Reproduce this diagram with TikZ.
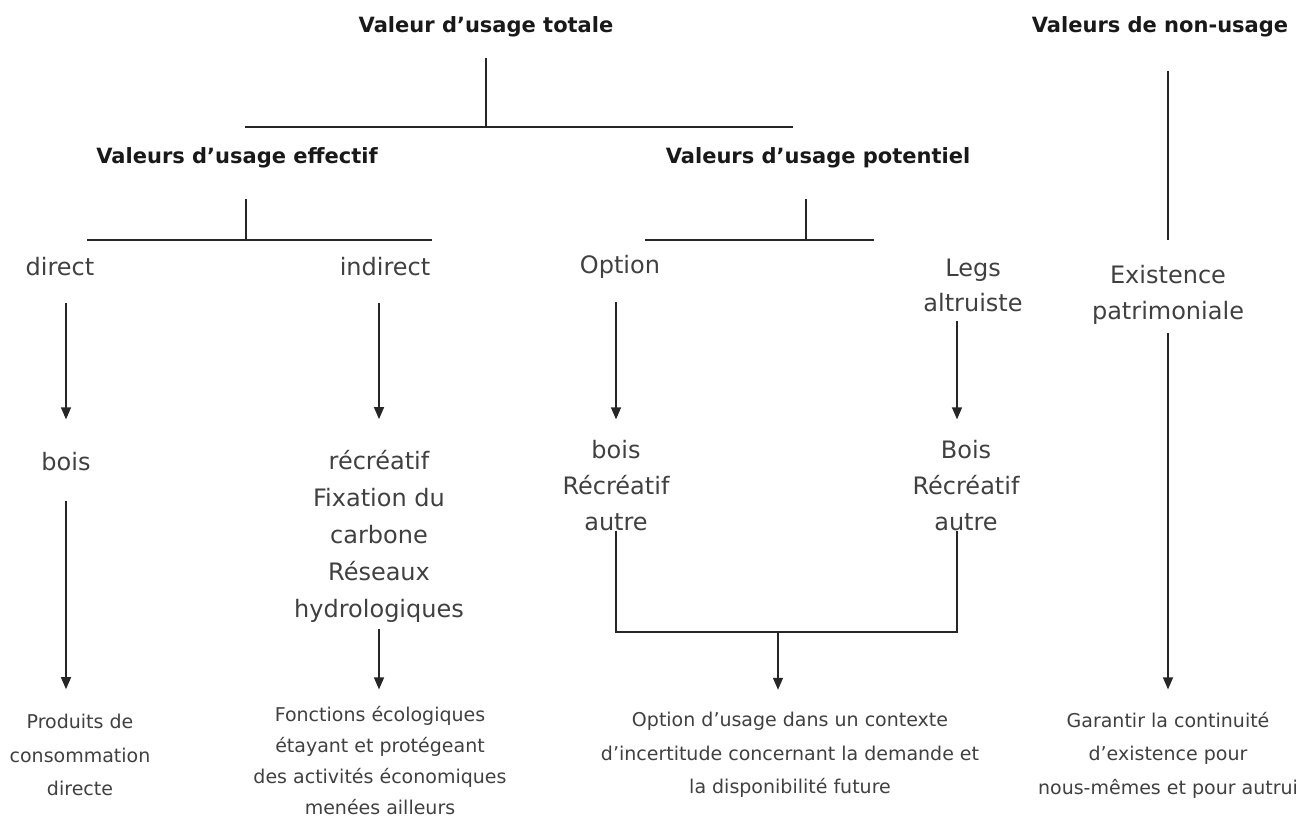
\documentclass[tikz,border=0pt]{standalone}
\usepackage{fontspec}
\setmainfont{DejaVu Sans}
\tikzset{->/.style = {-{Triangle[length=6pt,width=5pt]}}}
\usetikzlibrary{arrows.meta}
\tikzset{head/.style = {font=\bfseries\fontsize{10.5}{13}\selectfont, text=black!90},
         item/.style = {font=\fontsize{12}{18}\selectfont, align=center, text=black!75},
         result/.style = {font=\fontsize{9.5}{16.75}\selectfont, align=center, text=black!75}}

\begin{document}
\begin{tikzpicture}[x=0.5pt, y=-0.5pt, line width=0.7pt, draw=black!85]
      \useasboundingbox (0,0) rectangle (1309,819);
      % titres
      \node [head] (total) at (486,27) {Valeur d'usage totale};
      \node [head] (nonusage) at (1160,27) {Valeurs de non-usage};
      \node [head] (effectif) at (237,158) {Valeurs d'usage effectif};
      \node [head] (potentiel) at (818,158) {Valeurs d'usage potentiel};
      % categories
      \node [item] (direct) at (60,267) {direct};
      \node [item] (indirect) at (385,267) {indirect};
      \node [item] (option) at (620,267) {Option};
      \node [item, font=\fontsize{12}{17.5}\selectfont] (legs) at (973,285) {Legs\\altruiste};
      \node [item] (existence) at (1168,295) {Existence\\patrimoniale};
      \node [item] (bois) at (66,462) {bois};
      \node [item, font=\fontsize{12}{18.5}\selectfont] (indbox) at (379,536) {récréatif\\Fixation du\\carbone\\Réseaux\\hydrologiques};
      \node [item] (optbox) at (616,486) {bois\\Récréatif\\autre};
      \node [item] (legsbox) at (966,486) {Bois\\Récréatif\\autre};
      % resultats
      \node [result] (produits) at (80,755) {Produits de\\consommation\\directe};
      \node [result, font=\fontsize{9.5}{15.5}\selectfont] (fonctions) at (380,761) {Fonctions écologiques\\étayant et protégeant\\des activités économiques\\menées ailleurs};
      \node [result] (optfut) at (790,755) {Option d'usage dans un contexte\\d'incertitude concernant la demande et\\la disponibilité future};
      \node [result] (garant) at (1168,755) {Garantir la continuité\\d'existence pour\\nous-mêmes et pour autrui};

      \coordinate (topbar) at (486,127);
      \coordinate (topL) at (245,127);
      \coordinate (topR) at (793,127);
      \coordinate (effbar) at (246,240);
      \coordinate (effL) at (87,240);
      \coordinate (effR) at (432,240);
      \coordinate (potbar) at (806,240);
      \coordinate (potL) at (645,240);
      \coordinate (potR) at (874,240);
      \coordinate (merge) at (778,632);
      \coordinate (legsdrop) at (957,632);

      \draw [shorten <=6.5pt] (total) -- (topbar);
      \draw (topL) -- (topR);
      \draw [shorten <=11.5pt] (effbar |- effectif.south) -- (effbar);
      \draw (effL) -- (effR);
      \draw [shorten <=11.5pt] (potbar |- potentiel.south) -- (potbar);
      \draw (potL) -- (potR);
      \draw [shorten <=13pt, shorten >=9pt] (existence.north |- nonusage.south) -- (existence.north);

      \draw [->, shorten <=9.6pt, shorten >=13pt] (direct.south -| bois) -- (bois);
      \draw [->, shorten <=11pt, shorten >=8.8pt] (bois) -- (bois |- produits.north);
      \draw [->, shorten <=9.6pt, shorten >=11.7pt] (indirect.south -| indbox) -- (indbox);
      \draw [->, shorten >=5pt] (indbox) -- (indbox |- fonctions.north);
      \draw [->, shorten <=8pt, shorten >=7pt] (option.south -| optbox) -- (optbox);
      \draw [->, shorten <=1pt, shorten >=7pt] (legs.south -| legsdrop) -- (legsbox.north -| legsdrop);
      \draw [shorten <=-4pt, shorten >=-4pt] (optbox.south) -- (optbox.south |- merge) -- (legsdrop) -- (legsbox.south -| legsdrop);
      \draw [->, shorten >=7.6pt] (merge) -- (merge |- optfut.north);
      \draw [->, shorten <=0.5pt, shorten >=7.6pt] (existence) -- (garant);
    \end{tikzpicture}
\end{document}
